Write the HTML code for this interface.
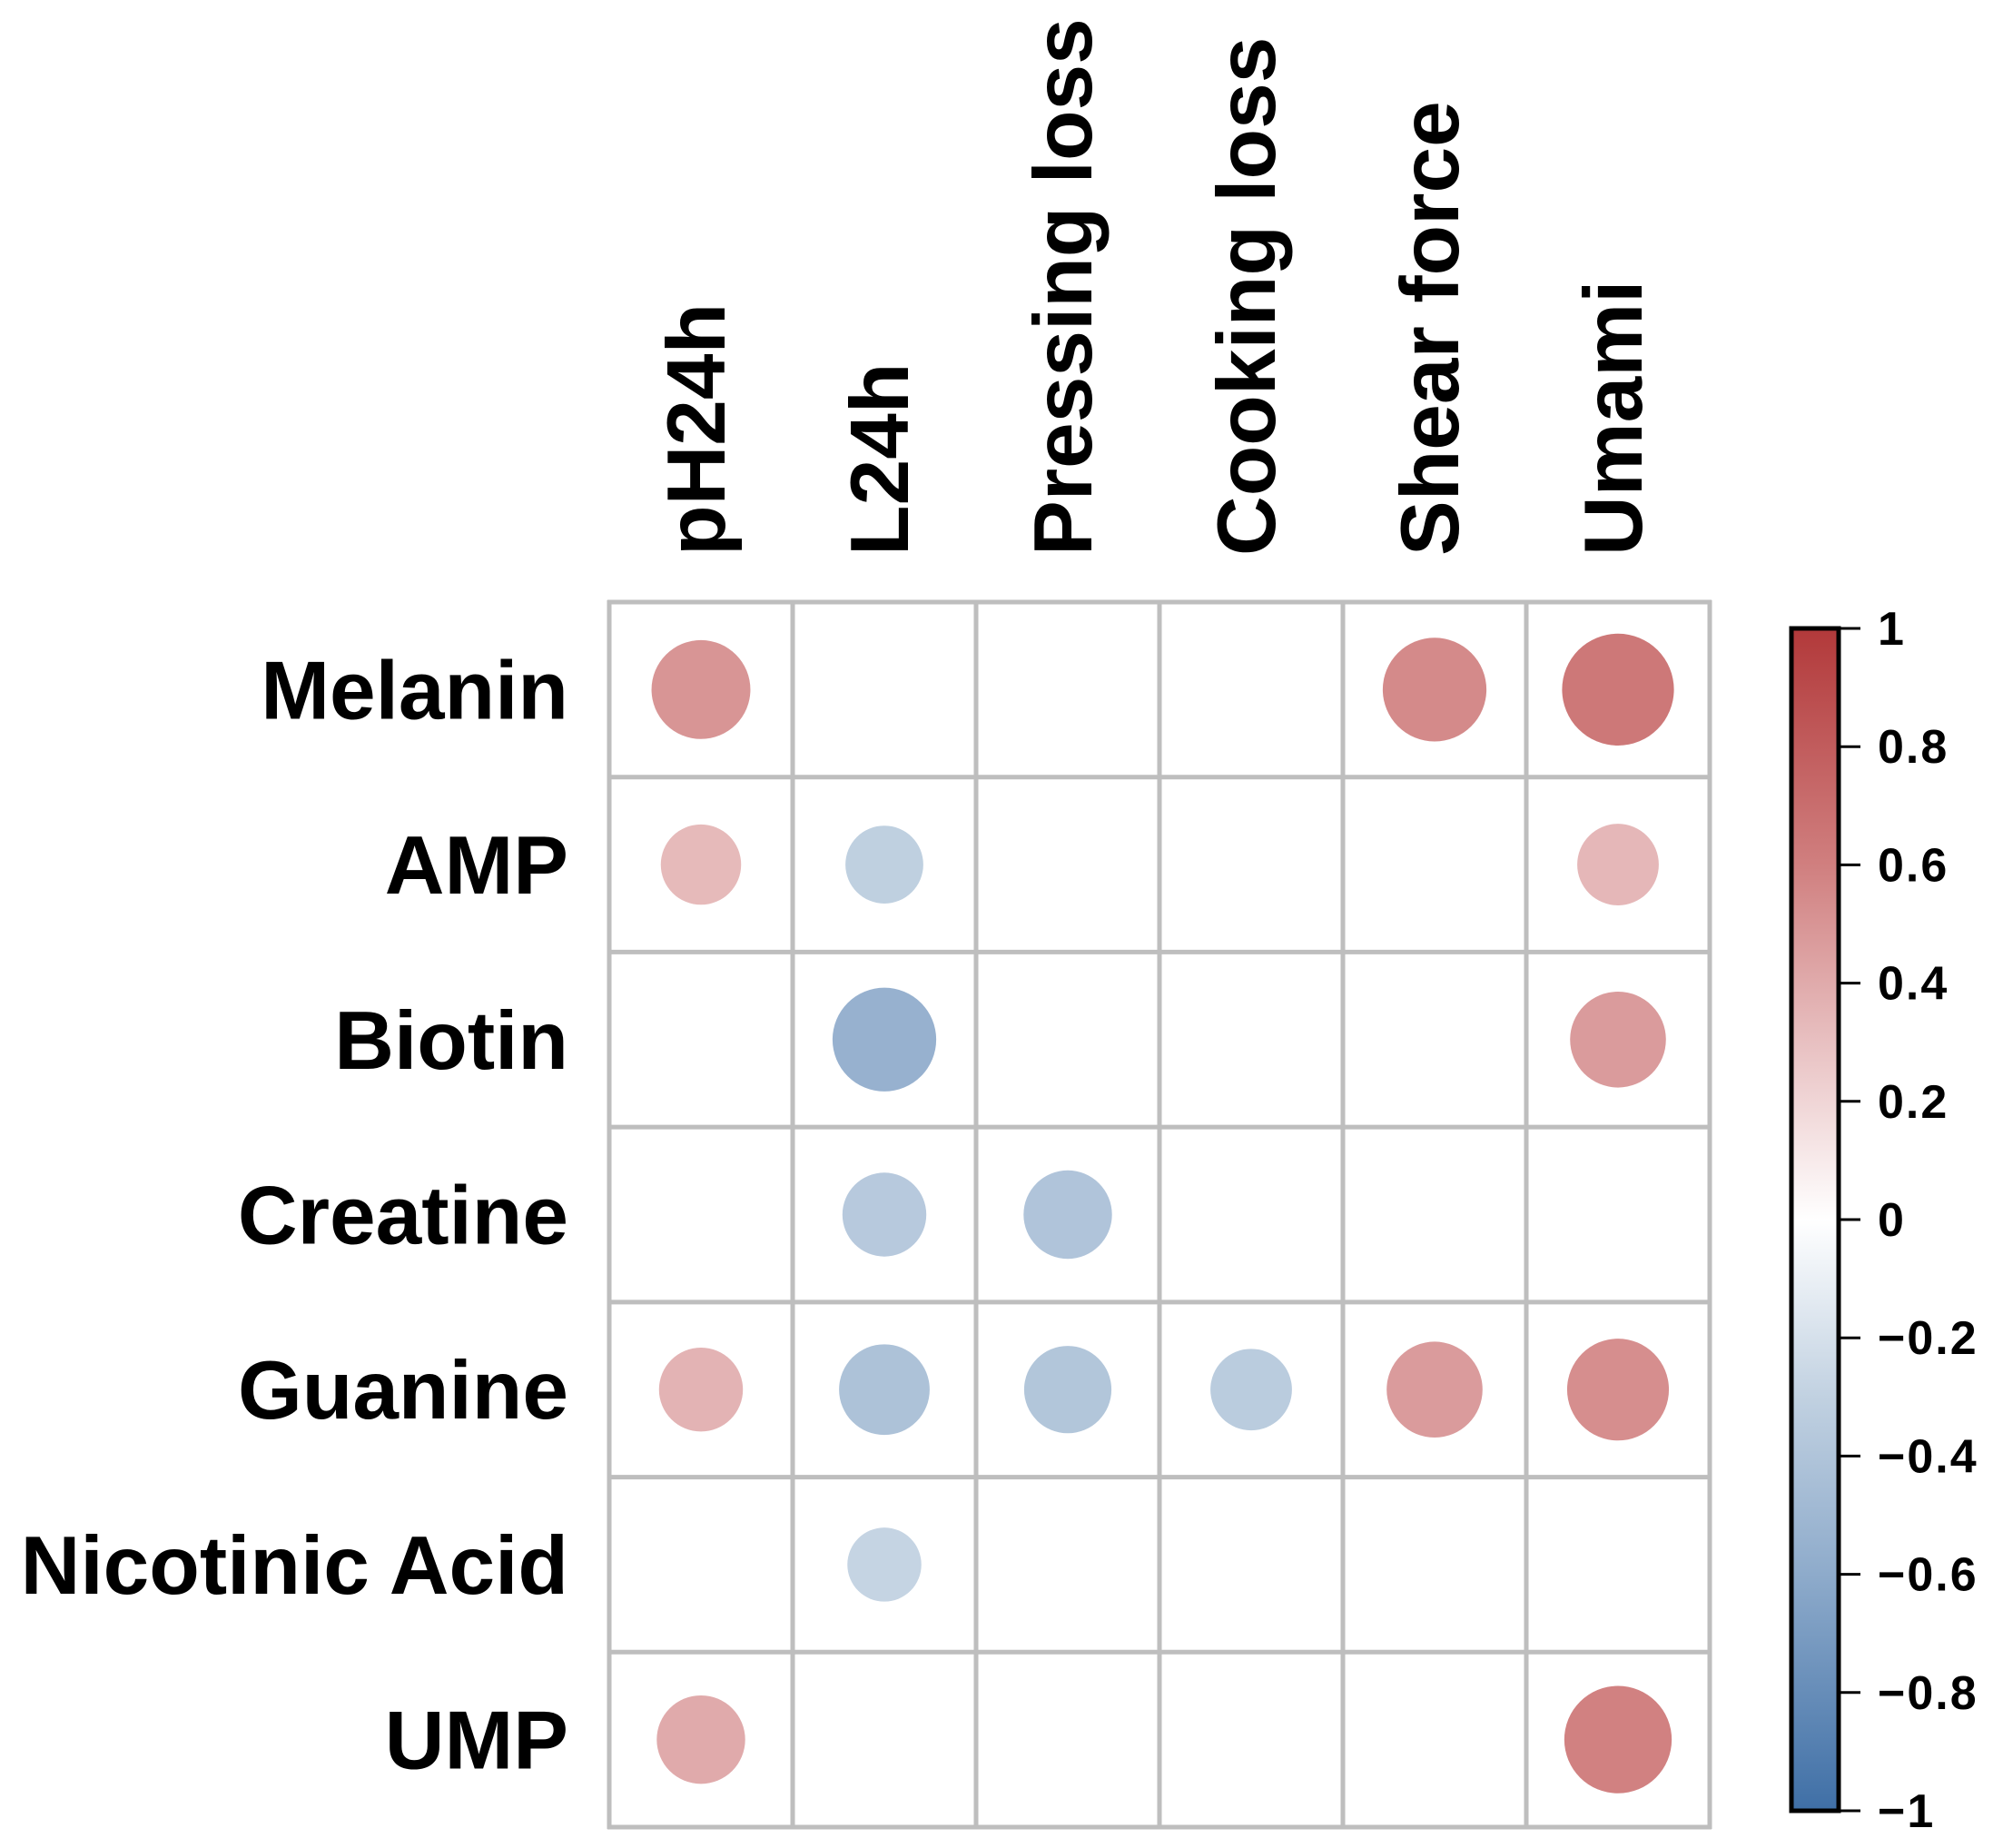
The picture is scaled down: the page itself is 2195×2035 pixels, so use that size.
<!DOCTYPE html>
<html><head><meta charset="utf-8"><style>
html,body{margin:0;padding:0;background:#fff;}
svg{display:block;}
text{font-family:"Liberation Sans",Arial,sans-serif;font-weight:bold;fill:#000;}
</style></head><body>
<svg id="chart" width="2195" height="2035" viewBox="0 0 2195 2035">
<defs>
<linearGradient id="cbgrad" x1="0" y1="1" x2="0" y2="0">
<stop offset="0" stop-color="#3F6FA6"/><stop offset="0.2" stop-color="#8EABCB"/><stop offset="0.35" stop-color="#C1D1E1"/>
<stop offset="0.5" stop-color="#FFFFFF"/><stop offset="0.65" stop-color="#E8C0C1"/><stop offset="0.8" stop-color="#D07F7F"/><stop offset="1" stop-color="#B2393A"/>
</linearGradient>
</defs>
<g id="cells"></g>
<g id="grid"></g>
<g id="rowlabels"></g>
<g id="collabels"></g>
<g id="colorbar"></g>
</svg>
<script>
const cols = ["pH24h","L24h","Pressing loss","Cooking loss","Shear force","Umami"];
const rows = ["Melanin","AMP","Biotin","Creatine","Guanine","Nicotinic Acid","UMP"];
const melanin = [0.50, null, null, null, 0.55, 0.64];
const amp = [0.33, -0.31, null, null, null, 0.34];
const biotin = [null, -0.55, null, null, null, 0.47];
const creatine = [null, -0.36, -0.40, null, null, null];
const guanine = [0.36, -0.42, -0.39, -0.34, 0.47, 0.53];
const nicotinic = [null, -0.28, null, null, null, null];
const ump = [0.40, null, null, null, null, 0.59];
const values = [melanin, amp, biotin, creatine, guanine, nicotinic, ump];
const cbTicks = [1,0.8,0.6,0.4,0.2,0,-0.2,-0.4,-0.6,-0.8,-1];
const cbLabels = ["1","0.8","0.6","0.4","0.2","0","\u22120.2","\u22120.4","\u22120.6","\u22120.8","\u22121"];

const NS="http://www.w3.org/2000/svg";
const gx0=671, gx1=1883, gy0=663, gy1=2012;
const cw=(gx1-gx0)/cols.length, ch=(gy1-gy0)/rows.length;
const xC=i=>gx0+cw*(i+0.5), yC=j=>gy0+ch*(j+0.5);
const rScale=v=>77*Math.sqrt(Math.abs(v));
const stops=[[-1,[63,111,166]],[-0.6,[142,171,203]],[-0.3,[193,209,225]],[0,[255,255,255]],[0.3,[232,192,193]],[0.6,[208,127,127]],[1,[178,57,58]]];
function color(v){for(let k=0;k<stops.length-1;k++){const a=stops[k],b=stops[k+1];if(v<=b[0]){const t=(v-a[0])/(b[0]-a[0]);const c=a[1].map((x,i)=>Math.round(x+(b[1][i]-x)*t));return `rgb(${c})`;}}return "rgb(178,57,58)";}
function mk(tag,attrs,parent){const e=document.createElementNS(NS,tag);for(const k in attrs)e.setAttribute(k,attrs[k]);parent.appendChild(e);return e;}

const gC=document.getElementById('cells');
values.forEach((row,j)=>row.forEach((v,i)=>{ if(v===null)return;
  const c=mk('circle',{cx:xC(i),cy:yC(j),r:rScale(v),fill:color(v)},gC);
  
  
}));
const gG=document.getElementById('grid');
for(let i=0;i<=cols.length;i++){const l=mk('line',{x1:gx0+cw*i,x2:gx0+cw*i,y1:gy0-2,y2:gy1+2,stroke:'#BEBEBE','stroke-width':5},gG);
  
  }
for(let j=0;j<=rows.length;j++){const l=mk('line',{x1:gx0-2,x2:gx1+2,y1:gy0+ch*j,y2:gy0+ch*j,stroke:'#BEBEBE','stroke-width':5},gG);
  
  }
const gR=document.getElementById('rowlabels');
rows.forEach((r,j)=>{const t=mk('text',{x:626,y:yC(j)+32,'text-anchor':'end','font-size':91},gR);t.textContent=r;
  
  });
const gL=document.getElementById('collabels');
cols.forEach((c,i)=>{const x=xC(i)+26,y=612;const t=mk('text',{x:x,y:y,'text-anchor':'start','font-size':91,transform:`rotate(-90 ${x} ${y})`},gL);t.textContent=c;
  
  });
const gB=document.getElementById('colorbar');
const bx0=1973,bx1=2025,by0=692,by1=1994;
const rect=mk('rect',{x:bx0,y:by0,width:bx1-bx0,height:by1-by0,fill:'url(#cbgrad)',stroke:'#000','stroke-width':5},gB);


const cbY=v=>by1-(v+1)/2*(by1-by0);
cbTicks.forEach((v,k)=>{const y=cbY(v);
  const l=mk('line',{x1:bx1,x2:bx1+24,y1:y,y2:y,stroke:'#000','stroke-width':3},gB);
  
  
  const t=mk('text',{x:2068,y:y+18,'font-size':52,'letter-spacing':2},gB);t.textContent=cbLabels[k];
  
  });
</script>
</body></html>
